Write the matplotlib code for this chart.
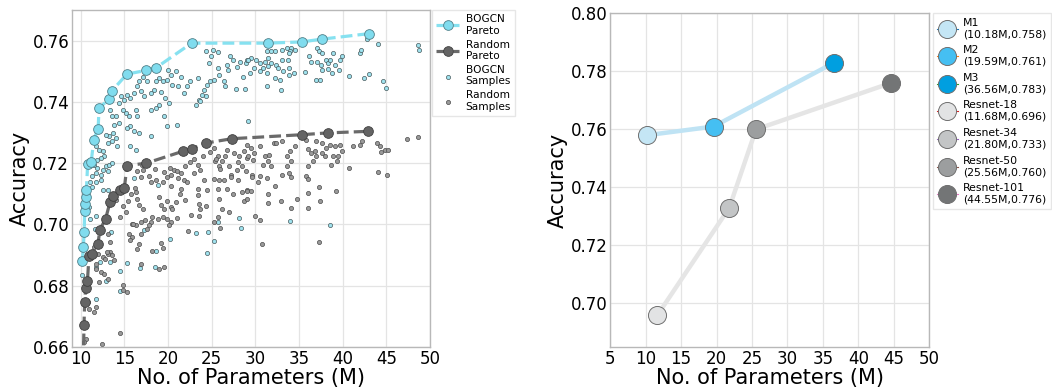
import numpy as np
import matplotlib
matplotlib.use("Agg")
import matplotlib.pyplot as plt

# ---- left panel data (params in M, accuracy) ----
bogcn_pareto_x = [10.2, 10.3, 10.4, 10.46, 10.5, 10.57, 10.65, 10.8, 11.2, 11.5, 12.0,
                  12.1, 13.2, 13.6, 15.3, 17.5, 18.6, 22.7, 31.4, 35.3, 37.6, 43.0]
bogcn_pareto_y = [0.6882, 0.6926, 0.6975, 0.7045, 0.7067, 0.7089, 0.7111, 0.7199, 0.7203,
                  0.7277, 0.7313, 0.7380, 0.7408, 0.7437, 0.7491, 0.7503, 0.7511, 0.7592,
                  0.7592, 0.7596, 0.7605, 0.7623]

random_pareto_x = [10.3, 10.38, 10.46, 10.57, 10.77, 10.95, 11.3, 11.98, 12.2, 12.85, 13.35,
                   13.65, 14.5, 15.0, 15.3, 17.5, 21.7, 22.7, 24.4, 27.3, 35.3, 38.3, 42.9]
random_pareto_y = [0.655, 0.6673, 0.6748, 0.6792, 0.6814, 0.6896, 0.6904, 0.6937, 0.6983,
                   0.7018, 0.7072, 0.7094, 0.7111, 0.7118, 0.7192, 0.7200, 0.7239, 0.7247,
                   0.7266, 0.7280, 0.7293, 0.7299, 0.7304]

bogcn_samples = [
    (24.4, 0.7565), (25.2, 0.7568), (25.7, 0.7562), (24.9, 0.7549), (24.7, 0.7527),
    (27.1, 0.7551), (27.4, 0.7536), (26.8, 0.7522), (26.9, 0.7505), (27.9, 0.7514),
    (28.2, 0.7529), (28.9, 0.7527), (29.1, 0.7538), (28.6, 0.7483), (28.8, 0.7443),
    (27.8, 0.7443), (25.7, 0.7511), (25.8, 0.7489), (25.3, 0.7473), (24.8, 0.7467),
    (24.5, 0.7456), (24.1, 0.7440), (23.9, 0.7424), (23.6, 0.7407), (23.2, 0.7391),
    (23.7, 0.7402), (24.3, 0.7418), (26.4, 0.7467), (26.5, 0.7451), (23.4, 0.7478),
    (22.5, 0.7467), (22.2, 0.7451), (21.8, 0.7429), (21.5, 0.7483), (20.9, 0.7500),
    (20.3, 0.7489), (20.0, 0.7503), (19.9, 0.7473), (20.5, 0.7456), (21.1, 0.7451),
    (19.4, 0.7467), (19.0, 0.7478), (18.6, 0.7467), (18.4, 0.7440), (18.0, 0.7429),
    (19.2, 0.7434), (19.7, 0.7413), (20.1, 0.7396), (19.0, 0.7391), (18.6, 0.7380),
    (18.0, 0.7375), (17.6, 0.7467), (17.1, 0.7483), (16.7, 0.7467), (16.5, 0.7451),
    (16.9, 0.7435), (17.3, 0.7418), (16.1, 0.7429), (15.7, 0.7413), (15.3, 0.7424),
    (15.0, 0.7407), (14.6, 0.7418), (14.4, 0.7396), (14.8, 0.7375), (15.2, 0.7364),
    (15.5, 0.7353), (16.3, 0.7375), (16.5, 0.7353), (15.7, 0.7320), (15.3, 0.7315),
    (16.1, 0.7304), (16.7, 0.7299), (14.4, 0.7331), (14.0, 0.7353), (13.6, 0.7353),
    (13.4, 0.7375), (13.8, 0.7326), (13.7, 0.7299), (14.0, 0.7282), (13.6, 0.7272),
    (14.2, 0.7255), (13.2, 0.7288), (12.9, 0.7293), (13.1, 0.7266), (19.5, 0.7353),
    (19.9, 0.7320), (21.0, 0.7326), (18.0, 0.7288), (15.6, 0.7255), (16.3, 0.7244),
    (11.7, 0.7255), (12.1, 0.7244), (12.5, 0.7239), (12.7, 0.7222), (12.3, 0.7217),
    (11.9, 0.7212), (11.5, 0.7195), (11.9, 0.7184), (12.5, 0.7179), (12.9, 0.7190),
    (13.2, 0.7195), (13.6, 0.7201), (11.7, 0.7168), (12.3, 0.7163), (13.1, 0.7173),
    (11.3, 0.7157), (31.3, 0.7565), (31.8, 0.7565), (32.3, 0.7565), (33.0, 0.7571),
    (33.6, 0.7576), (34.1, 0.7576), (34.5, 0.7571), (34.0, 0.7565), (33.8, 0.7560),
    (31.5, 0.7543), (31.1, 0.7532), (30.5, 0.7527), (29.5, 0.7543), (29.2, 0.7538),
    (30.1, 0.7538), (30.9, 0.7511), (31.5, 0.7516), (31.8, 0.7527), (32.4, 0.7522),
    (33.0, 0.7538), (33.7, 0.7538), (32.6, 0.7511), (33.2, 0.7500), (33.9, 0.7511),
    (34.4, 0.7494), (33.8, 0.7489), (29.4, 0.7494), (29.9, 0.7511), (30.5, 0.7500),
    (31.3, 0.7494), (32.2, 0.7478), (32.8, 0.7473), (31.3, 0.7453), (32.9, 0.7440),
    (36.2, 0.7549), (36.4, 0.7532), (37.1, 0.7576), (37.3, 0.7565), (37.6, 0.7560),
    (37.1, 0.7532), (37.5, 0.7522), (38.1, 0.7538), (38.3, 0.7527), (38.6, 0.7538),
    (38.9, 0.7560), (39.1, 0.7522), (38.3, 0.7507), (38.8, 0.7494), (39.6, 0.7505),
    (39.9, 0.7551), (39.7, 0.7536), (35.7, 0.7497), (37.6, 0.7505), (36.9, 0.7473),
    (37.4, 0.7473), (40.7, 0.7486), (42.0, 0.7560), (42.1, 0.7571), (42.5, 0.7479),
    (43.0, 0.7490), (44.1, 0.7590), (44.6, 0.7470), (45.0, 0.7445), (48.6, 0.7586),
    (48.8, 0.7571), (29.2, 0.7337), (42.8, 0.7605), (16.1, 0.7151), (18.8, 0.7130),
    (13.1, 0.7111), (12.5, 0.7111), (11.8, 0.7029), (11.6, 0.6984), (13.5, 0.6977),
    (17.3, 0.6981), (20.2, 0.6953), (18.6, 0.6915), (23.2, 0.6973), (24.6, 0.6975),
    (25.3, 0.6946), (24.5, 0.6908), (25.7, 0.7008), (28.1, 0.7021), (28.4, 0.6988),
    (15.3, 0.6874), (16.8, 0.6858), (18.5, 0.6861), (14.5, 0.6847), (14.5, 0.6782),
    (10.2, 0.6836), (11.7, 0.6861), (12.2, 0.6879), (12.9, 0.6817), (13.4, 0.6879),
    (11.8, 0.6758), (11.1, 0.7138), (11.7, 0.7140), (12.3, 0.7144), (11.3, 0.7122),
    (11.0, 0.7057), (11.1, 0.7019), (34.0, 0.7010), (38.5, 0.6997),
]

random_samples = [
    (25.3, 0.7250), (25.7, 0.7223), (25.4, 0.7206), (25.8, 0.7190), (26.2, 0.7206),
    (26.8, 0.7244), (27.6, 0.7233), (28.1, 0.7222), (28.7, 0.7239), (29.1, 0.7217),
    (28.5, 0.7190), (27.9, 0.7179), (28.9, 0.7174), (27.2, 0.7163), (23.4, 0.7195),
    (23.7, 0.7179), (23.0, 0.7168), (22.0, 0.7190), (21.5, 0.7168), (20.7, 0.7179),
    (20.3, 0.7163), (17.1, 0.7179), (16.5, 0.7173), (17.8, 0.7157), (16.9, 0.7155),
    (18.0, 0.7138), (18.6, 0.7144), (19.4, 0.7140), (19.9, 0.7155), (20.3, 0.7127),
    (21.1, 0.7151), (21.8, 0.7144), (22.2, 0.7138), (21.5, 0.7117), (23.4, 0.7117),
    (24.1, 0.7144), (24.5, 0.7111), (23.4, 0.7095), (23.6, 0.7068), (23.7, 0.7051),
    (23.6, 0.7029), (25.3, 0.7149), (25.8, 0.7144), (26.4, 0.7144), (25.7, 0.7117),
    (25.8, 0.7084), (26.8, 0.7117), (27.2, 0.7155), (28.0, 0.7144), (28.5, 0.7106),
    (29.0, 0.7111), (28.7, 0.7078), (25.7, 0.7024), (25.3, 0.7008), (16.3, 0.7106),
    (16.5, 0.7084), (15.4, 0.7078), (16.7, 0.7062), (17.1, 0.7051), (19.0, 0.7089),
    (19.2, 0.7062), (19.5, 0.7051), (19.9, 0.7078), (20.3, 0.7057), (20.9, 0.7073),
    (20.5, 0.7051), (15.9, 0.7002), (16.3, 0.6999), (16.9, 0.7008), (17.4, 0.7013),
    (18.0, 0.7008), (18.2, 0.7024), (18.8, 0.7019), (19.4, 0.7024), (19.9, 0.7019),
    (20.3, 0.7008), (20.1, 0.6997), (17.6, 0.6986), (17.8, 0.6997), (15.5, 0.6970),
    (15.9, 0.6959), (16.9, 0.6970), (15.7, 0.6948), (16.7, 0.6937), (16.5, 0.6919),
    (18.2, 0.6915), (19.2, 0.6939), (19.4, 0.6923), (19.0, 0.6855), (19.5, 0.6861),
    (16.9, 0.6872), (14.8, 0.6801), (15.3, 0.6779), (14.9, 0.6785), (14.5, 0.6647),
    (12.4, 0.6611), (13.4, 0.6910), (13.6, 0.6899), (13.1, 0.6904), (13.8, 0.6883),
    (12.3, 0.6845), (12.7, 0.6839), (12.1, 0.6812), (13.1, 0.6823), (11.7, 0.6855),
    (11.7, 0.6730), (11.5, 0.6714), (11.0, 0.6725), (10.8, 0.6747), (10.6, 0.6627),
    (10.4, 0.6616), (13.1, 0.6970), (13.4, 0.6943), (29.0, 0.7261), (29.5, 0.7250),
    (30.5, 0.7255), (29.9, 0.7233), (29.2, 0.7222), (29.7, 0.7212), (31.1, 0.7222),
    (31.6, 0.7228), (31.5, 0.7206), (30.9, 0.7195), (31.8, 0.7190), (32.1, 0.7266),
    (32.4, 0.7266), (33.0, 0.7271), (33.6, 0.7222), (34.0, 0.7239), (34.5, 0.7255),
    (34.1, 0.7206), (33.6, 0.7190), (35.8, 0.7277), (36.0, 0.7246), (36.4, 0.7233),
    (36.8, 0.7239), (37.0, 0.7271), (37.6, 0.7266), (38.1, 0.7250), (38.0, 0.7222),
    (38.5, 0.7261), (39.1, 0.7255), (39.7, 0.7258), (39.9, 0.7239), (39.5, 0.7222),
    (38.9, 0.7222), (39.3, 0.7206), (38.7, 0.7195), (36.6, 0.7206), (37.0, 0.7222),
    (37.6, 0.7233), (36.0, 0.7190), (35.8, 0.7157), (33.8, 0.7168), (33.0, 0.7163),
    (30.5, 0.7157), (29.6, 0.7160), (41.2, 0.7255), (42.0, 0.7261), (42.2, 0.7271),
    (43.9, 0.7266), (44.3, 0.7255), (44.4, 0.7235), (44.8, 0.7244), (45.2, 0.7242),
    (40.7, 0.7185), (44.0, 0.7170), (45.1, 0.7163), (47.4, 0.7280), (48.6, 0.7284),
    (29.6, 0.7155), (30.3, 0.7140), (31.3, 0.7151), (32.2, 0.7125), (29.0, 0.7108),
    (29.5, 0.7108), (31.4, 0.7100), (32.9, 0.7078), (29.1, 0.7082), (31.4, 0.7070),
    (34.1, 0.7053), (34.8, 0.7084), (36.0, 0.7103), (36.0, 0.7147), (37.3, 0.7122),
    (37.4, 0.7078), (36.0, 0.7053), (39.2, 0.7108), (30.0, 0.7029), (30.5, 0.7013),
    (30.8, 0.6937), (37.3, 0.6942), (34.1, 0.7155), (17.0, 0.7195), (18.5, 0.7180),
    (19.5, 0.7170), (20.2, 0.7185), (21.0, 0.7175), (22.5, 0.7205), (23.0, 0.7215),
    (24.0, 0.7225), (24.8, 0.7235), (25.5, 0.7215), (26.0, 0.7180), (26.5, 0.7225),
    (27.0, 0.7190), (28.0, 0.7205), (11.5, 0.6925), (12.0, 0.6905), (12.5, 0.6895),
    (12.8, 0.6888), (13.0, 0.6910), (11.8, 0.6870), (14.0, 0.7080), (14.8, 0.7060),
    (15.2, 0.7040), (15.8, 0.7100), (16.2, 0.7120), (14.5, 0.7025), (16.0, 0.7000),
    (21.4, 0.7100), (22.0, 0.7080), (22.6, 0.7030), (21.0, 0.7020), (24.4, 0.7060),
    (26.2, 0.7050), (27.5, 0.7100), (27.0, 0.7040), (22.3, 0.6980), (26.0, 0.6990),
]

# ---- right panel data ----
model_names = ["M1", "M2", "M3", "Resnet-18", "Resnet-34", "Resnet-50", "Resnet-101"]
model_params = [10.18, 19.59, 36.56, 11.68, 21.80, 25.56, 44.55]
model_acc = [0.758, 0.761, 0.783, 0.696, 0.733, 0.760, 0.776]
model_colors = ["#c4e6f5", "#45bff2", "#009fe0", "#e2e3e4", "#c3c5c6", "#9c9e9f", "#737576"]

spine_c = "#b8b8b8"
grid_c = "#e4e4e4"


def style_axes(ax):
    ax.grid(True, color=grid_c, linewidth=0.9)
    ax.set_axisbelow(True)
    for s in ax.spines.values():
        s.set_color(spine_c)
        s.set_linewidth(1.0)
    ax.tick_params(length=0, labelsize=12, pad=2)
    ax.set_xlabel("No. of Parameters (M)", fontsize=15, labelpad=0)
    ax.set_ylabel("Accuracy", fontsize=15, labelpad=2)


fig = plt.figure(figsize=(10.52, 3.87), dpi=100)
ax1 = fig.add_axes([0.0684, 0.1034, 0.3403, 0.8706])
ax2 = fig.add_axes([0.5799, 0.1034, 0.3036, 0.862])

# left panel
bs = np.array(bogcn_samples)
rs = np.array(random_samples)
ax1.plot(bogcn_pareto_x, bogcn_pareto_y, "--", color="#86e1f0", lw=2.3, marker="o",
         ms=7, mfc="#80dcee", mec="#4f7f88", mew=0.6, label="BOGCN\nPareto", zorder=3)
ax1.plot(random_pareto_x, random_pareto_y, "--", color="#6a6a6a", lw=2.3, marker="o",
         ms=7, mfc="#646464", mec="#3f3f3f", mew=0.6, label="Random\nPareto", zorder=3)
ax1.scatter(bs[:, 0], bs[:, 1], s=9, c="#9fe2ee", edgecolors="#46595c", linewidths=0.5,
            label="BOGCN\nSamples", zorder=2)
ax1.scatter(rs[:, 0], rs[:, 1], s=9, c="#9a9a9a", edgecolors="#4a4a4a", linewidths=0.5,
            label="Random\nSamples", zorder=2)
ax1.set_xlim(9, 50)
ax1.set_ylim(0.66, 0.77)
ax1.set_xticks(np.arange(10, 51, 5))
ax1.set_yticks(np.arange(0.66, 0.7601, 0.02))
ax1.set_yticklabels(["%.2f" % v for v in np.arange(0.66, 0.7601, 0.02)])
style_axes(ax1)
leg1 = ax1.legend(loc="upper left", bbox_to_anchor=(1.005, 1.0), fontsize=7.6,
                  labelspacing=0.35, handlelength=2.2, handletextpad=0.6,
                  borderaxespad=0.0, frameon=True, fancybox=False)
leg1.get_frame().set_edgecolor("#e0e0e0")

# right panel
ax2.plot(model_params[:3], model_acc[:3], "-", color="#bfe3f4", lw=3.2, zorder=2)
ax2.plot(model_params[3:], model_acc[3:], "-", color="#e5e5e5", lw=3.2, zorder=2)
for i in range(len(model_names)):
    lab = "%s\n(%.2fM,%.3f)" % (model_names[i], model_params[i], model_acc[i])
    ax2.plot([model_params[i]], [model_acc[i]], marker="o", ms=13, lw=0.8,
             color="C%d" % i, mfc=model_colors[i], mec="#707070", mew=0.7,
             label=lab, zorder=3)
ax2.set_xlim(5, 50)
ax2.set_ylim(0.685, 0.80)
ax2.set_xticks(np.arange(5, 51, 5))
ax2.set_yticks(np.arange(0.70, 0.8001, 0.02))
ax2.set_yticklabels(["%.2f" % v for v in np.arange(0.70, 0.8001, 0.02)])
style_axes(ax2)
leg2 = ax2.legend(loc="upper left", bbox_to_anchor=(1.01, 1.0), fontsize=7.8,
                  labelspacing=0.55, handlelength=1.9, handletextpad=0.5,
                  borderaxespad=0.0, frameon=True, fancybox=False)
leg2.get_frame().set_edgecolor("#e0e0e0")

fig.savefig("out.png", dpi=100)
